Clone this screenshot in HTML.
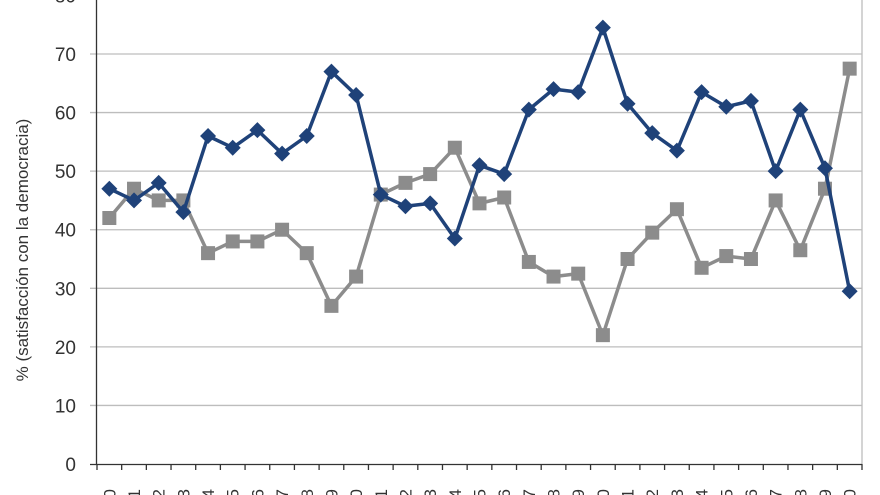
<!DOCTYPE html>
<html><head><style>html,body{margin:0;background:#fff;width:880px;height:495px;overflow:hidden}svg{display:block}</style></head><body>
<svg id="s" width="880" height="495" xmlns="http://www.w3.org/2000/svg" font-family="Liberation Sans, sans-serif" overflow="hidden">
<g id="g"></g>
<text x="28" y="250" font-size="17" fill="#333" text-anchor="middle" transform="rotate(-90 28 250)">% (satisfacción con la democracia)</text>
</svg>
<script>
var g=document.getElementById('g'),h='';
function Y(v){return 464-v*5.857;}
for(var v=10;v<=80;v+=10){h+='<line x1="90" x2="862" y1="'+Y(v)+'" y2="'+Y(v)+'" stroke="#bdbdbd" stroke-width="1.3"/>';}
for(var v=0;v<=80;v+=10){h+='<text x="76" y="'+(Y(v)+7)+'" font-size="19" fill="#333" text-anchor="end">'+v+'</text>';}
h+='<line x1="862" x2="862" y1="0" y2="464" stroke="#bdbdbd" stroke-width="1.3"/>';
h+='<line x1="96.5" x2="96.5" y1="0" y2="464" stroke="#333" stroke-width="1.3"/>';
h+='<line x1="90" x2="862" y1="464.5" y2="464.5" stroke="#333" stroke-width="1.3"/>';
var n=31,dx=(862-97)/31;
for(var i=0;i<=n;i++){var x=97+i*dx;h+='<line x1="'+x+'" x2="'+x+'" y1="464" y2="470" stroke="#333" stroke-width="1.3"/>';}
for(var i=0;i<n;i++){var x=97+(i+0.5)*dx+6;h+='<text x="'+x+'" y="489" font-size="17" fill="#333" text-anchor="end" transform="rotate(-90 '+x+' 489)">'+(1990+i)+'</text>';}
var b=[47,45,48,43,56,54,57,53,56,67,63,46,44,44.5,38.5,51,49.5,60.5,64,63.5,74.5,61.5,56.5,53.5,63.5,61,62,50,60.5,50.5,29.5];
var gr=[42,47,45,45,36,38,38,40,36,27,32,46,48,49.5,54,44.5,45.5,34.5,32,32.5,22,35,39.5,43.5,33.5,35.5,35,45,36.5,47,67.5];
function line(d,c){var p=d.map(function(v,i){return (97+(i+0.5)*dx)+','+Y(v)}).join(' ');return '<polyline points="'+p+'" fill="none" stroke="'+c+'" stroke-width="3.5" stroke-linejoin="round"/>';}
h+=line(gr,'#8c8c8c');
gr.forEach(function(v,i){var x=97+(i+0.5)*dx;h+='<rect x="'+(x-7)+'" y="'+(Y(v)-7)+'" width="14" height="14" fill="#8c8c8c"/>';});
h+=line(b,'#1f4279');
b.forEach(function(v,i){var x=97+(i+0.5)*dx,y=Y(v);h+='<polygon points="'+x+','+(y-8)+' '+(x+8)+','+y+' '+x+','+(y+8)+' '+(x-8)+','+y+'" fill="#1f4279"/>';});
g.innerHTML=h;
</script>
</body></html>
